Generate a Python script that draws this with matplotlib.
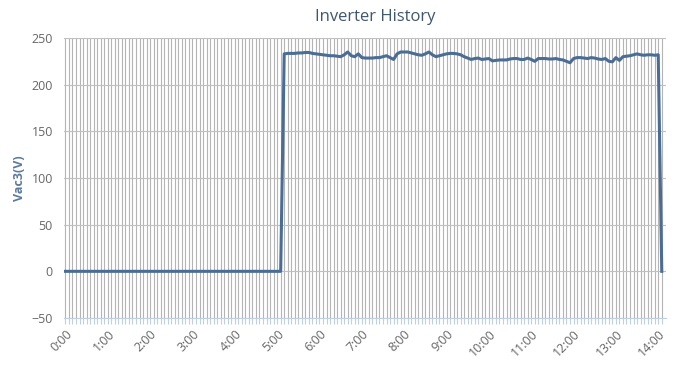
import matplotlib.pyplot as plt

# Vac3 readings every 5 minutes starting 0:00
vac3 = [
    0, 0, 0, 0, 0, 0, 0, 0, 0, 0, 0, 0,
    0, 0, 0, 0, 0, 0, 0, 0, 0, 0, 0, 0,
    0, 0, 0, 0, 0, 0, 0, 0, 0, 0, 0, 0,
    0, 0, 0, 0, 0, 0, 0, 0, 0, 0, 0, 0,
    0, 0, 0, 0, 0, 0, 0, 0, 0, 0, 0, 0,
    0, 0,
    233, 233.5, 233.5, 233.5, 234, 234, 234.5, 234.5, 233.5, 233,
    232.5, 232, 231.5, 231, 231, 230.5, 230, 232, 235, 231,
    230, 233, 229, 228.5, 228.5, 228.5, 229, 229, 230, 231,
    229, 227, 233, 235, 235, 235,
    234, 233, 232, 231.5, 233, 235, 232, 230, 231, 232,
    233, 233.5, 233.5, 233, 232, 230, 228.5, 227, 228, 228.5,
    227, 227.5, 228, 225.5, 226, 226.5, 226.5, 226.5, 227.5, 228,
    228, 227, 227, 228.5, 227, 225,
    228, 228, 228, 227.5, 227.5, 228, 227, 226.5, 225, 223.5,
    228, 229, 229, 228.5, 228, 229, 228.5, 227.5, 227, 228,
    225, 224.5, 229, 226, 230, 230.5, 231, 232, 233, 232,
    231.5, 232, 232, 231.5, 232, 0,
]
categories = [f"{i // 12}:{i % 12 * 5:02d}" for i in range(len(vac3))]
hour_labels = ["0:00", "1:00", "2:00", "3:00", "4:00", "5:00", "6:00", "7:00",
               "8:00", "9:00", "10:00", "11:00", "12:00", "13:00", "14:00"]
y_ticks = [-50, 0, 50, 100, 150, 200, 250]

plt.rcParams['font.family'] = ['Open Sans', 'DejaVu Sans']

fig = plt.figure(figsize=(6.74, 3.65), dpi=100)
ax = fig.add_axes([64 / 674, 1 - 318 / 365, (666 - 64) / 674, (318 - 38) / 365])

x = list(range(len(vac3)))
ax.plot(x, vac3, color='#4a6d96', lw=2.2, solid_joinstyle='round', zorder=3)

# category gridlines
ax.set_xticks(x)
ax.set_xticklabels([c if c in hour_labels else "" for c in categories],
                   rotation=45, ha='right', rotation_mode='anchor',
                   fontsize=9, color='#666666')
ax.tick_params(axis='x', length=4, color='#c0d0e0', pad=3)
for xi in x:
    ax.axvline(xi, color='#b4b4b4', lw=0.8, zorder=1)

ax.set_yticks(y_ticks)
ax.set_yticklabels([str(v).replace('-', '\u2212') for v in y_ticks],
                   fontsize=9, color='#666666')
ax.tick_params(axis='y', length=0, pad=8)
ax.grid(axis='y', color='#c0c0c0', lw=0.8, zorder=1)

ax.set_xlim(-0.4, len(vac3) + 0.2)
ax.set_ylim(-50, 250)

for s in ['top', 'right', 'left']:
    ax.spines[s].set_visible(False)
ax.spines['bottom'].set_color('#c0d0e0')

ax.set_ylabel('Vac3(V)', fontsize=9, fontweight='bold', color='#5a7a9e', labelpad=4)
fig.text(375 / 674, 1 - 17 / 365, 'Inverter History', ha='center', va='center',
         fontsize=12, color='#3e576f')

fig.savefig('out.png', dpi=100, facecolor='white')
